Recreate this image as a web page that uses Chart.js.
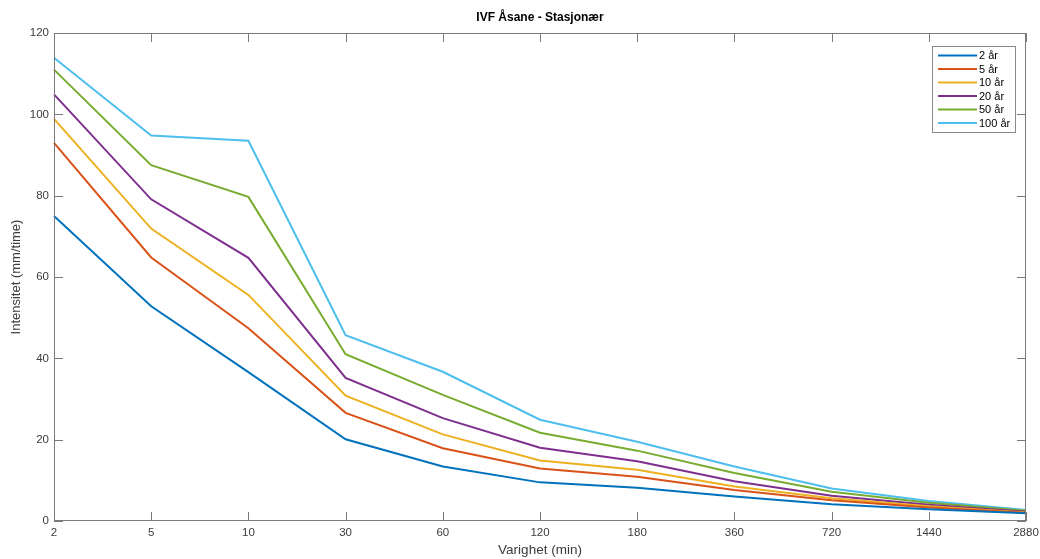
<!DOCTYPE html>
<html lang="no">
  <head>
    <meta charset="UTF-8" />
    <title>IVF Åsane - Stasjonær</title>
    <script src="https://cdn.jsdelivr.net/npm/chart.js@4/dist/chart.umd.min.js"></script>
    <style>
      html, body { margin: 0; padding: 0; background: #fff; }
      #wrap { position: relative; width: 1040px; height: 559px; }
    </style>
  </head>
  <body>
    <div id="wrap"><canvas id="chart" width="1040" height="559"></canvas></div>

    <script>
      // Data
      const durations = ["2", "5", "10", "30", "60", "120", "180", "360", "720", "1440", "2880"];
      const seriesNames = ["2 år", "5 år", "10 år", "20 år", "50 år", "100 år"];
      const seriesColors = ["#0072BD", "#D95319", "#EDB120", "#7E2F8E", "#77AC30", "#4DBEEE"];
      const ar2 = [75, 52.8, 36.6, 20.1, 13.4, 9.5, 8.2, 6.0, 4.1, 2.9, 1.9];
      const ar5 = [93, 64.8, 47.4, 26.6, 17.9, 12.9, 10.9, 7.6, 5.1, 3.3, 2.0];
      const ar10 = [98.9, 71.9, 55.6, 30.8, 21.3, 14.9, 12.6, 8.5, 5.6, 3.6, 2.1];
      const ar20 = [104.9, 79.1, 64.7, 35.2, 25.3, 18.0, 14.7, 9.8, 6.2, 4.0, 2.3];
      const ar50 = [111, 87.5, 79.7, 41.0, 31.0, 21.7, 17.3, 11.8, 7.2, 4.5, 2.5];
      const ar100 = [113.9, 94.8, 93.5, 45.7, 36.7, 24.9, 19.5, 13.4, 8.0, 4.9, 2.7];
      const seriesValues = [ar2, ar5, ar10, ar20, ar50, ar100];
      const yTicks = [0, 20, 40, 60, 80, 100, 120];

      const axisColor = "#7a7a7a";
      const textColor = "#3c3c3c";
      const fontFamily = "'Liberation Sans', Arial, Helvetica, sans-serif";

      // Box, inward ticks, title and legend like a MATLAB figure
      const matlabFrame = {
        id: "matlabFrame",
        afterDraw(chart) {
          const { ctx, chartArea: a, scales } = chart;
          const tl = 9;
          ctx.save();
          ctx.strokeStyle = axisColor;
          ctx.lineWidth = 1;
          ctx.strokeRect(a.left + 0.5, a.top + 0.5, a.right - a.left - 1, a.bottom - a.top - 1);
          ctx.beginPath();
          scales.x.ticks.forEach((t, i) => {
            const x = Math.round(scales.x.getPixelForTick(i)) + 0.5;
            ctx.moveTo(x, a.bottom); ctx.lineTo(x, a.bottom - tl);
            ctx.moveTo(x, a.top); ctx.lineTo(x, a.top + tl);
          });
          scales.y.ticks.forEach((t, i) => {
            const y = Math.round(scales.y.getPixelForTick(i)) + 0.5;
            ctx.moveTo(a.left, y); ctx.lineTo(a.left + tl, y);
            ctx.moveTo(a.right, y); ctx.lineTo(a.right - tl, y);
          });
          ctx.stroke();

          // title
          ctx.fillStyle = "#000";
          ctx.font = "bold 12px " + fontFamily;
          ctx.textAlign = "center";
          ctx.textBaseline = "middle";
          ctx.fillText("IVF Åsane - Stasjonær", (a.left + a.right) / 2, 18);

          // legend
          const lx = a.right - 94, ly = 46, lw = 83, lh = 86;
          ctx.fillStyle = "#fff";
          ctx.fillRect(lx, ly, lw, lh);
          ctx.strokeStyle = "#8a8a8a";
          ctx.strokeRect(lx + 0.5, ly + 0.5, lw, lh);
          ctx.font = "11px " + fontFamily;
          ctx.textAlign = "left";
          seriesNames.forEach((name, i) => {
            const y = ly + 9.5 + i * 13.5;
            ctx.strokeStyle = seriesColors[i];
            ctx.lineWidth = 2;
            ctx.beginPath();
            ctx.moveTo(lx + 6, y); ctx.lineTo(lx + 45, y);
            ctx.stroke();
            ctx.fillStyle = "#000";
            ctx.fillText(name, lx + 47, y + 0.5);
          });
          ctx.restore();
        },
      };

      new Chart(document.getElementById("chart"), {
        type: "line",
        data: {
          labels: durations,
          datasets: seriesNames.map((name, i) => ({
            label: name,
            data: seriesValues[i],
            borderColor: seriesColors[i],
            backgroundColor: seriesColors[i],
            borderWidth: 2,
            pointRadius: 0,
            tension: 0,
            fill: false,
          })),
        },
        options: {
          responsive: false,
          animation: false,
          layout: { padding: { top: 33, right: 14, left: 0, bottom: 0 } },
          plugins: {
            legend: { display: false },
            tooltip: { enabled: false },
            title: { display: false },
          },
          scales: {
            x: {
              type: "category",
              offset: false,
              grid: { display: false, drawTicks: false },
              border: { display: false },
              ticks: {
                color: textColor,
                font: { family: fontFamily, size: 11.5 },
                padding: 5,
                maxRotation: 0,
                autoSkip: false,
              },
              title: {
                display: true,
                text: "Varighet (min)",
                color: textColor,
                font: { family: fontFamily, size: 13.5 },
                padding: { top: 0, bottom: 1 },
              },
              afterFit: (s) => {
                s.height = 38;
                s.paddingLeft = 0;
                s.paddingRight = 0;
              },
            },
            y: {
              min: 0,
              max: 120,
              grid: { display: false, drawTicks: false },
              border: { display: false },
              afterBuildTicks: (s) => { s.ticks = yTicks.map((v) => ({ value: v })); },
              ticks: {
                color: textColor,
                font: { family: fontFamily, size: 11.5 },
                padding: 5,
              },
              title: {
                display: true,
                text: "Intensitet (mm/time)",
                color: textColor,
                font: { family: fontFamily, size: 13 },
                padding: { top: 9, bottom: 0 },
              },
              afterFit: (s) => {
                s.width = 54;
                s.paddingTop = 0;
                s.paddingBottom = 0;
              },
            },
          },
        },
        plugins: [matlabFrame],
      });
    </script>
  </body>
</html>
